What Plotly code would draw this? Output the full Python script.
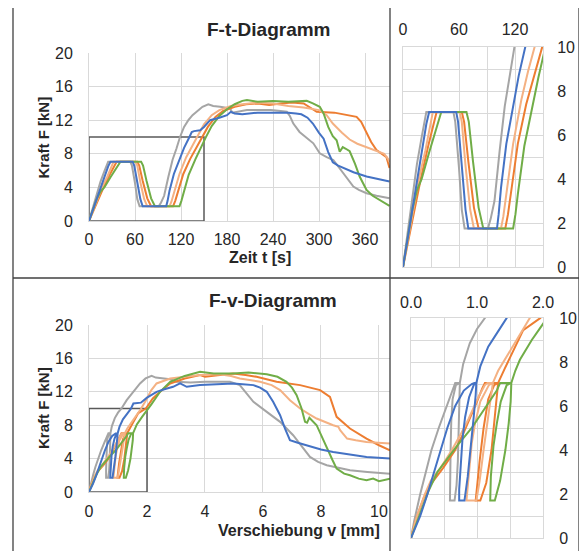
import plotly.graph_objects as go

# The page places the figure 8 px from the top-left corner of the window,
# so the figure is 8 px smaller and all layout positions are shifted by 8 px.
OFF = 8
W, H = 587 - OFF, 551 - OFF

def px(x):
    return (x - OFF) / W

def py(y):
    return 1 - (y - OFF) / H

names = ["Probe 1", "Probe 2", "Probe 3", "Probe 4", "Probe 5"]
colors = ["#A5A5A5", "#ED7D31", "#F4B183", "#70AD47", "#4472C4"]

# ---------- F-t data (Zeit t [s], Kraft F [kN]) ----------
t_gray = [0, 5, 10, 15, 20, 25, 54, 56, 60, 63, 66, 91, 94, 98, 103.6, 109, 114, 118.7, 124, 129.6, 135, 140.5, 148, 155.6, 162, 171, 180, 184, 187, 195, 206, 220, 237, 250, 258, 262, 266.5, 274.6, 283, 292.6, 301, 310, 318.7, 325, 331.7, 338, 344.8, 352, 362, 375, 392]
F_t_gray = [0, 1.6, 3.2, 4.7, 5.9, 7.05, 7.05, 6.6, 4.5, 2.6, 1.75, 1.75, 2.2, 3.0, 5.3, 7.3, 8.6, 10.0, 11.2, 12.0, 12.6, 13.0, 13.6, 13.9, 13.7, 13.6, 13.5, 13.4, 12.9, 13.0, 13.2, 13.2, 13.2, 13.1, 13.0, 12.5, 11.6, 10.6, 10.0, 9.25, 8.06, 7.6, 7.26, 6.5, 5.7, 4.9, 4.1, 3.7, 3.3, 3.0, 2.7]

t_blue = [0, 5, 10, 15, 20, 25, 28, 57, 59, 63, 67, 70, 100.7, 102.5, 105, 110.7, 118, 124, 131, 134, 137, 145, 150, 158, 170, 180, 185, 190, 200, 220, 240, 260, 270, 277, 285, 292, 300, 306, 312, 318, 325, 335, 345, 362, 380, 392]
F_t_blue = [0, 1.3, 2.7, 4.1, 5.3, 6.5, 7.05, 7.05, 6.6, 4.5, 2.6, 1.75, 1.75, 2.4, 3.6, 5.6, 7.4, 8.7, 10.0, 10.6, 10.7, 10.8, 11.2, 12.0, 12.3, 12.6, 13.0, 12.8, 12.7, 12.9, 12.9, 12.9, 12.8, 12.7, 12.3, 11.6, 10.5, 9.8, 8.2, 7.0, 6.6, 6.2, 5.8, 5.3, 4.9, 4.7]

t_salmon = [0, 5, 10, 17, 24, 32, 60.7, 63, 67, 72, 76, 105, 107.5, 110.7, 118, 126.8, 134, 141, 150, 160, 170, 185, 200, 220, 240, 260, 280, 300, 310, 318, 330, 340, 350, 362, 375, 385, 390, 392]
F_t_salmon = [0, 1.2, 2.4, 4.0, 5.3, 7.05, 7.05, 6.6, 4.6, 2.6, 1.75, 1.75, 2.3, 3.3, 5.6, 7.6, 8.9, 10.0, 11.5, 12.6, 13.2, 13.7, 13.9, 14.1, 14.0, 13.7, 13.5, 13.2, 12.6, 11.6, 10.5, 9.7, 9.2, 8.8, 8.4, 8.0, 7.4, 7.0]

t_orange = [0, 5, 10, 19, 27, 36, 63, 65.5, 70, 76, 81, 109.6, 112.5, 116, 123, 132, 140, 148, 155, 165, 175, 190, 205, 220, 235, 250, 265, 280, 287, 297, 320, 340, 349, 355, 362, 368, 375, 382, 388, 392]
F_t_orange = [0, 1.1, 2.2, 4.0, 5.5, 7.05, 7.05, 6.6, 4.8, 2.7, 1.75, 1.75, 2.4, 3.5, 5.6, 7.4, 8.7, 10.0, 11.2, 12.4, 13.1, 13.6, 13.9, 14.0, 13.8, 14.0, 14.1, 14.0, 13.6, 13.0, 12.9, 12.5, 12.4, 11.8, 10.4, 9.4, 8.45, 8.0, 7.6, 6.3]

t_green = [0, 5, 10, 15, 20, 28, 35, 41, 68, 70.5, 75, 81, 86, 118, 120.5, 123, 130, 139, 145, 152, 160, 170, 180, 190, 200, 206, 220, 240, 260, 284, 292, 301, 306, 312, 318, 323, 327, 331, 335, 340, 347, 353, 358, 362, 370, 379, 392]
F_t_green = [0, 1.4, 2.6, 3.5, 4.0, 5.2, 6.2, 7.05, 7.05, 6.6, 4.8, 2.7, 1.75, 1.75, 2.4, 3.3, 5.5, 7.4, 8.6, 9.9, 11.3, 12.5, 13.3, 13.9, 14.3, 14.4, 14.2, 14.3, 14.2, 14.3, 14.0, 13.6, 12.8, 11.2, 10.1, 9.6, 8.25, 8.8, 8.6, 8.3, 6.8, 5.3, 4.4, 3.7, 3.0, 2.5, 1.8]

# ---------- F-v data (Verschiebung v [mm], Kraft F [kN]) ----------
v_gray = [0, 0.05, 0.14, 0.22, 0.31, 0.42, 0.54, 0.62, 0.67, 0.74, 0.68, 0.63, 0.61, 0.60, 0.59, 0.59, 0.66, 0.69, 0.71, 0.72, 0.73, 0.74, 0.79, 0.89, 1.0, 1.12, 1.3, 1.53, 1.76, 1.95, 2.16, 2.3, 2.6, 2.8, 3.02, 3.5, 4.0, 4.5, 4.86, 5.2, 5.45, 5.67, 6.13, 6.59, 7.04, 7.39, 7.62, 7.9, 8.2, 8.6, 9.0, 9.6, 10.38]
F_v_gray = [0, 0.8, 2.0, 3.0, 4.0, 5.0, 6.0, 6.7, 7.05, 7.05, 6.95, 6.3, 5.3, 4.0, 2.6, 1.7, 1.7, 2.4, 3.5, 5.0, 6.2, 7.05, 7.9, 8.85, 9.5, 10.0, 11.0, 12.0, 13.0, 13.6, 13.9, 13.7, 13.6, 13.5, 13.2, 13.1, 13.2, 13.2, 13.2, 12.8, 11.8, 10.8, 9.6, 8.4, 6.8, 5.2, 4.2, 3.6, 3.2, 2.9, 2.6, 2.4, 2.2]

v_blue = [0, 0.07, 0.14, 0.25, 0.35, 0.44, 0.55, 0.67, 0.80, 0.92, 0.96, 0.99, 0.95, 0.88, 0.82, 0.78, 0.75, 0.73, 0.73, 0.81, 0.86, 0.91, 0.95, 0.98, 0.99, 1.05, 1.17, 1.3, 1.45, 1.53, 1.79, 2.0, 2.33, 2.6, 2.9, 3.14, 3.37, 3.83, 4.4, 4.98, 5.3, 5.67, 5.9, 6.13, 6.35, 6.59, 6.76, 6.93, 7.2, 7.5, 8.0, 8.42, 9.0, 9.57, 10.38]
F_v_blue = [0, 0.5, 1.0, 2.0, 3.0, 4.0, 5.0, 6.0, 6.7, 7.0, 7.05, 7.05, 6.95, 6.4, 5.5, 4.5, 3.2, 2.2, 1.7, 1.7, 2.8, 4.2, 5.5, 6.5, 7.05, 7.8, 8.7, 9.3, 10.0, 10.6, 10.7, 11.3, 12.0, 12.3, 12.6, 13.0, 12.6, 12.8, 12.9, 13.0, 12.9, 12.8, 12.5, 12.0, 10.8, 9.2, 7.6, 6.2, 5.9, 5.6, 5.1, 4.8, 4.5, 4.2, 4.0]

v_salmon = [0, 0.08, 0.21, 0.30, 0.45, 0.62, 0.75, 0.87, 1.02, 1.12, 1.16, 1.23, 1.18, 1.05, 0.97, 0.92, 0.88, 0.85, 0.84, 0.99, 1.04, 1.10, 1.16, 1.21, 1.24, 1.32, 1.42, 1.63, 1.8, 2.0, 2.15, 2.33, 2.6, 2.8, 3.3, 3.83, 4.5, 4.9, 5.2, 5.9, 6.3, 6.59, 6.93, 7.28, 7.6, 7.85, 8.42, 8.6, 8.66, 8.9, 9.2, 9.57, 10.38]
F_v_salmon = [0, 0.9, 2.0, 2.6, 3.2, 4.0, 4.7, 5.4, 6.4, 6.95, 7.05, 7.05, 6.95, 6.2, 5.2, 4.3, 3.0, 2.1, 1.7, 1.7, 2.6, 4.0, 5.3, 6.4, 7.05, 7.6, 8.1, 9.15, 10.0, 11.2, 12.2, 13.0, 13.4, 13.6, 13.8, 14.0, 14.1, 13.9, 13.6, 13.2, 12.8, 12.2, 11.0, 10.0, 9.3, 8.8, 8.0, 7.8, 7.4, 6.4, 6.2, 6.0, 5.8]

v_orange = [0, 0.08, 0.19, 0.29, 0.49, 0.67, 0.80, 0.89, 1.0, 1.08, 1.12, 1.32, 1.26, 1.17, 1.10, 1.04, 1.0, 0.98, 1.05, 1.14, 1.22, 1.27, 1.30, 1.32, 1.42, 1.58, 1.70, 1.96, 2.2, 2.45, 2.8, 3.3, 3.83, 4.0, 4.5, 4.97, 5.4, 5.78, 6.47, 7.28, 7.97, 8.31, 8.54, 9.0, 9.57, 10.0, 10.38]
F_v_orange = [0, 0.9, 1.8, 2.4, 3.2, 4.0, 4.8, 5.4, 6.2, 6.8, 7.05, 7.05, 6.95, 6.3, 5.0, 3.5, 2.3, 1.7, 1.7, 2.5, 4.0, 5.5, 6.3, 7.05, 7.7, 8.7, 9.45, 10.0, 11.2, 12.0, 13.0, 13.6, 14.0, 13.8, 14.0, 14.2, 14.0, 13.8, 13.2, 12.8, 12.2, 11.4, 9.0, 7.6, 6.4, 5.6, 5.0]

v_green = [0, 0.06, 0.14, 0.26, 0.40, 0.57, 0.70, 0.92, 1.15, 1.30, 1.35, 1.52, 1.45, 1.36, 1.30, 1.25, 1.21, 1.20, 1.27, 1.35, 1.43, 1.48, 1.51, 1.52, 1.58, 1.65, 1.83, 2.0, 2.15, 2.45, 2.8, 3.3, 3.83, 4.3, 4.97, 5.5, 6.13, 6.5, 6.81, 7.0, 7.16, 7.33, 7.45, 7.52, 7.6, 7.85, 8.0, 8.2, 8.4, 8.54, 8.8, 9.0, 9.3, 9.57, 9.8, 10.0, 10.38]
F_v_green = [0, 0.5, 1.1, 2.1, 3.0, 3.7, 4.2, 5.0, 6.0, 6.7, 7.05, 7.05, 6.95, 6.2, 5.2, 4.2, 2.8, 1.7, 1.7, 2.6, 4.0, 5.2, 6.2, 7.05, 7.6, 8.1, 9.0, 9.73, 10.5, 12.0, 13.2, 13.9, 14.4, 14.2, 14.2, 14.3, 14.1, 13.8, 13.2, 12.5, 11.6, 10.0, 8.4, 8.3, 8.9, 8.0, 6.8, 5.2, 3.8, 2.8, 2.2, 2.0, 1.6, 1.4, 1.6, 1.3, 1.6]

series_t = [(t_gray, F_t_gray), (t_orange, F_t_orange), (t_salmon, F_t_salmon), (t_green, F_t_green), (t_blue, F_t_blue)]
series_v = [(v_gray, F_v_gray), (v_orange, F_v_orange), (v_salmon, F_v_salmon), (v_green, F_v_green), (v_blue, F_v_blue)]

# axis ticks / ranges
t_main_range = [0, 392.6]
t_main_dtick = 60
F_main_range = [0, 20]
F_main_dtick = 4
t_inset_range = [0, 150]
t_inset_dtick = 60
t_inset_minor = 30
F_inset_range = [0, 10]
F_inset_dtick = 2
F_inset_minor = 1
v_main_range = [0, 10.38]
v_main_dtick = 2
v_inset_range = [0, 2]
v_inset_dtick = 1
v_inset_minor = 0.5

fig = go.Figure()
for (name, col, (tx, ty), (vx, vy)) in zip(names, colors, series_t, series_v):
    for xa, ya in [("x", "y"), ("x2", "y2")]:
        fig.add_trace(go.Scatter(x=tx, y=ty, mode="lines", name=name, xaxis=xa, yaxis=ya,
                                 line=dict(color=col, width=2), showlegend=False, hoverinfo="skip"))
    for xa, ya in [("x3", "y3"), ("x4", "y4")]:
        fig.add_trace(go.Scatter(x=vx, y=vy, mode="lines", name=name, xaxis=xa, yaxis=ya,
                                 line=dict(color=col, width=2), showlegend=False, hoverinfo="skip"))

GRID = "#D9D9D9"
FONT = "Liberation Sans, Arial, sans-serif"
TXT = "#262626"
tickfont = dict(family=FONT, size=16, color=TXT)

def main_x(dom, rng, dtick, anchor, standoff):
    return dict(domain=dom, range=rng, dtick=dtick, tick0=0, anchor=anchor, showgrid=True, gridcolor=GRID,
                gridwidth=1, zeroline=False, showline=True, linecolor=GRID, tickfont=tickfont,
                ticks="", ticklabelstandoff=standoff, automargin=False, fixedrange=True)

def main_y(dom, rng, dtick, anchor, standoff):
    return dict(domain=dom, range=rng, dtick=dtick, tick0=0, anchor=anchor, showgrid=True, gridcolor=GRID,
                gridwidth=1, zeroline=False, showline=True, linecolor=GRID, tickfont=tickfont,
                ticks="", ticklabelstandoff=standoff, automargin=False, fixedrange=True)

def inset_x(dom, rng, dtick, minor, anchor, fmt, standoff):
    return dict(domain=dom, range=rng, dtick=dtick, tick0=0, anchor=anchor, side="top", showgrid=True,
                gridcolor=GRID, zeroline=False, showline=True, linecolor=GRID, mirror=True,
                minor=dict(dtick=minor, tick0=0, showgrid=True, gridcolor=GRID, ticks=""),
                tickfont=tickfont, ticks="", tickformat=fmt, ticklabelstandoff=standoff,
                automargin=False, fixedrange=True)

def inset_y(dom, rng, dtick, minor, anchor, standoff):
    return dict(domain=dom, range=rng, dtick=dtick, tick0=0, anchor=anchor, side="right", showgrid=True,
                gridcolor=GRID, zeroline=False, showline=True, linecolor=GRID, mirror=True,
                minor=dict(dtick=minor, tick0=0, showgrid=True, gridcolor=GRID, ticks=""),
                tickfont=tickfont, ticks="", ticklabelstandoff=standoff, automargin=False, fixedrange=True)

fig.update_layout(
    width=W, height=H, margin=dict(l=0, r=0, t=0, b=0, pad=0, autoexpand=False),
    paper_bgcolor="white", plot_bgcolor="white", showlegend=False,
    font=dict(family=FONT, color=TXT),
    xaxis=main_x([px(89), px(390)], t_main_range, t_main_dtick, "y", 4),
    yaxis=main_y([py(221), py(53)], F_main_range, F_main_dtick, "x", 12),
    xaxis2=inset_x([px(403), px(543)], t_inset_range, t_inset_dtick, t_inset_minor, "y2", None, 5),
    yaxis2=inset_y([py(267), py(47)], F_inset_range, F_inset_dtick, F_inset_minor, "x2", 10),
    xaxis3=main_x([px(89), px(390)], v_main_range, v_main_dtick, "y3", 5),
    yaxis3=main_y([py(492), py(325)], F_main_range, F_main_dtick, "x3", 12),
    xaxis4=inset_x([px(411), px(543)], v_inset_range, v_inset_dtick, v_inset_minor, "y4", ".1f", 3),
    yaxis4=inset_y([py(538), py(318)], F_inset_range, F_inset_dtick, F_inset_minor, "x4", 12),
)

BOX = "#595959"
FRAME = "#404040"
shapes = [
    dict(type="rect", xref="x", yref="y", x0=t_inset_range[0], x1=t_inset_range[1],
         y0=F_inset_range[0], y1=F_inset_range[1], line=dict(color=BOX, width=1.5), layer="between"),
    dict(type="rect", xref="x3", yref="y3", x0=v_inset_range[0], x1=v_inset_range[1],
         y0=F_inset_range[0], y1=F_inset_range[1], line=dict(color=BOX, width=1.5), layer="between"),
    # frame
    dict(type="line", xref="paper", yref="paper", x0=px(13), x1=px(579), y0=py(6.5), y1=py(6.5), line=dict(color=FRAME, width=1.3)),
    dict(type="line", xref="paper", yref="paper", x0=px(13), x1=px(13), y0=py(6.5), y1=py(551), line=dict(color=FRAME, width=1.3)),
    dict(type="line", xref="paper", yref="paper", x0=px(579), x1=px(579), y0=py(6.5), y1=py(551), line=dict(color=FRAME, width=1.3)),
    dict(type="line", xref="paper", yref="paper", x0=px(390), x1=px(390), y0=py(6.5), y1=py(551), line=dict(color=FRAME, width=1.3)),
    dict(type="line", xref="paper", yref="paper", x0=px(13), x1=px(579), y0=py(278), y1=py(278), line=dict(color=FRAME, width=1.3)),
]
fig.update_layout(shapes=shapes)

def ann(text, x, y, size, angle=0):
    return dict(text=f"<b>{text}</b>", x=px(x), y=py(y), xref="paper", yref="paper", showarrow=False,
                xanchor="center", yanchor="middle", textangle=angle,
                font=dict(family=FONT, size=size, color=TXT))

fig.update_layout(annotations=[
    ann("F-t-Diagramm", 269, 29, 19),
    ann("F-v-Diagramm", 272.5, 300, 19),
    ann("Zeit t [s]", 260, 257, 16),
    ann("Verschiebung v [mm]", 299, 530, 16),
    ann("Kraft F [kN]", 43, 137.5, 15, -90),
    ann("Kraft F [kN]", 43, 408, 15, -90),
])

fig.write_html("out.html")
